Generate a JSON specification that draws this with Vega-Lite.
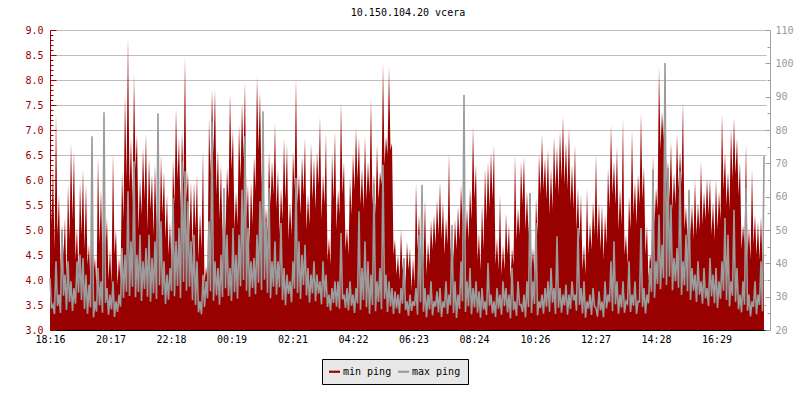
{
"$schema":"https://vega.github.io/schema/vega-lite/v6.json",
"width":716,"height":300,
"autosize":{"type":"none"},
"padding":{"left":50,"top":30,"right":34,"bottom":70},
"background":"white",
"title":{"text":"10.150.104.20 vcera","font":"DejaVu Sans Mono","fontSize":10,"fontWeight":"normal","color":"black","offset":7},
"data":{"values":[
{"t":0,"mn":6.77,"mx":35.6},{"t":3,"mn":5.1,"mx":26.5},
{"t":6,"mn":6.27,"mx":27.6},{"t":9,"mn":4.6,"mx":24.8},
{"t":12,"mn":7.34,"mx":40.6},{"t":15,"mn":4.9,"mx":27.2},
{"t":18,"mn":5.71,"mx":30.6},{"t":21,"mn":4.2,"mx":25.1},
{"t":24,"mn":5.11,"mx":49.6},{"t":27,"mn":4.5,"mx":30.3},
{"t":30,"mn":5.24,"mx":36.6},{"t":33,"mn":4.0,"mx":26.0},
{"t":36,"mn":5.91,"mx":40.6},{"t":39,"mn":4.8,"mx":28.4},
{"t":42,"mn":6.74,"mx":34.6},{"t":45,"mn":5.2,"mx":25.7},
{"t":48,"mn":6.57,"mx":32.6},{"t":51,"mn":4.4,"mx":27.9},
{"t":54,"mn":5.04,"mx":40.6},{"t":57,"mn":4.1,"mx":31.2},
{"t":60,"mn":5.97,"mx":42.6},{"t":63,"mn":4.9,"mx":29.0},
{"t":66,"mn":6.21,"mx":41.6},{"t":69,"mn":4.6,"mx":26.3},
{"t":72,"mn":5.91,"mx":36.6},{"t":75,"mn":4.3,"mx":24.9},
{"t":78,"mn":4.71,"mx":33.6},{"t":81,"mn":3.9,"mx":26.8},
{"t":84,"mn":4.91,"mx":78.1},{"t":87,"mn":4.1,"mx":23.8},
{"t":90,"mn":4.47,"mx":28.6},{"t":93,"mn":3.8,"mx":25.5},
{"t":96,"mn":6.47,"mx":38.6},{"t":99,"mn":4.7,"mx":27.4},
{"t":102,"mn":5.81,"mx":34.6},{"t":105,"mn":4.4,"mx":25.2},
{"t":108,"mn":5.51,"mx":85.3},{"t":111,"mn":4.6,"mx":28.1},
{"t":114,"mn":5.24,"mx":32.6},{"t":117,"mn":4.0,"mx":24.6},
{"t":120,"mn":4.64,"mx":30.6},{"t":123,"mn":3.9,"mx":26.2},
{"t":126,"mn":6.56,"mx":34.6},{"t":129,"mn":4.5,"mx":23.9},
{"t":132,"mn":5.01,"mx":28.6},{"t":135,"mn":3.9,"mx":25.4},
{"t":138,"mn":4.44,"mx":30.6},{"t":141,"mn":4.0,"mx":27.0},
{"t":144,"mn":6.17,"mx":44.6},{"t":147,"mn":5.2,"mx":29.6},
{"t":150,"mn":7.71,"mx":42.6},{"t":153,"mn":6.0,"mx":31.5},
{"t":156,"mn":8.87,"mx":61.6},{"t":159,"mn":5.8,"mx":30.2},
{"t":162,"mn":6.84,"mx":46.6},{"t":165,"mn":5.5,"mx":33.0},
{"t":168,"mn":8.12,"mx":70.6},{"t":171,"mn":6.2,"mx":29.8},
{"t":174,"mn":6.91,"mx":42.6},{"t":177,"mn":5.0,"mx":31.4},
{"t":180,"mn":6.04,"mx":48.6},{"t":183,"mn":5.3,"mx":28.7},
{"t":186,"mn":6.64,"mx":40.6},{"t":189,"mn":5.6,"mx":32.3},
{"t":192,"mn":6.94,"mx":44.6},{"t":195,"mn":5.0,"mx":30.0},
{"t":198,"mn":6.44,"mx":48.6},{"t":201,"mn":5.4,"mx":28.5},
{"t":204,"mn":6.11,"mx":41.6},{"t":207,"mn":4.9,"mx":31.0},
{"t":210,"mn":6.31,"mx":46.6},{"t":213,"mn":5.1,"mx":29.3},
{"t":216,"mn":5.97,"mx":85.0},{"t":219,"mn":4.7,"mx":33.4},
{"t":222,"mn":6.51,"mx":52.6},{"t":225,"mn":5.3,"mx":30.5},
{"t":228,"mn":6.17,"mx":40.6},{"t":231,"mn":4.8,"mx":27.8},
{"t":234,"mn":5.71,"mx":36.6},{"t":237,"mn":4.5,"mx":29.1},
{"t":240,"mn":5.17,"mx":38.6},{"t":243,"mn":4.3,"mx":31.7},
{"t":246,"mn":6.41,"mx":59.6},{"t":249,"mn":5.5,"mx":30.1},
{"t":252,"mn":7.44,"mx":46.6},{"t":255,"mn":6.0,"mx":33.2},
{"t":258,"mn":6.84,"mx":50.6},{"t":261,"mn":5.4,"mx":29.6},
{"t":264,"mn":6.97,"mx":70.6},{"t":267,"mn":5.9,"mx":34.5},
{"t":270,"mn":8.47,"mx":67.6},{"t":273,"mn":5.6,"mx":31.8},
{"t":276,"mn":6.17,"mx":58.6},{"t":279,"mn":4.9,"mx":33.0},
{"t":282,"mn":5.97,"mx":46.6},{"t":285,"mn":4.6,"mx":28.9},
{"t":288,"mn":5.97,"mx":48.6},{"t":291,"mn":5.0,"mx":27.5},
{"t":294,"mn":6.11,"mx":40.6},{"t":297,"mn":4.4,"mx":25.3},
{"t":300,"mn":5.37,"mx":28.6},{"t":303,"mn":4.6,"mx":24.7},
{"t":306,"mn":6.61,"mx":36.6},{"t":309,"mn":3.9,"mx":26.9},
{"t":312,"mn":4.27,"mx":34.6},{"t":315,"mn":4.0,"mx":29.5},
{"t":318,"mn":7.24,"mx":52.6},{"t":321,"mn":6.1,"mx":31.6},
{"t":324,"mn":7.81,"mx":82.6},{"t":327,"mn":6.5,"mx":28.8},
{"t":330,"mn":7.81,"mx":40.6},{"t":333,"mn":5.7,"mx":30.4},
{"t":336,"mn":6.61,"mx":38.6},{"t":339,"mn":5.2,"mx":27.6},
{"t":342,"mn":6.31,"mx":42.6},{"t":345,"mn":4.8,"mx":29.9},
{"t":348,"mn":5.84,"mx":62.6},{"t":351,"mn":4.9,"mx":32.5},
{"t":354,"mn":6.24,"mx":48.6},{"t":357,"mn":5.6,"mx":30.2},
{"t":360,"mn":7.74,"mx":38.6},{"t":363,"mn":6.2,"mx":28.7},
{"t":366,"mn":7.01,"mx":50.6},{"t":369,"mn":5.0,"mx":31.3},
{"t":372,"mn":5.77,"mx":42.6},{"t":375,"mn":5.1,"mx":29.4},
{"t":378,"mn":7.11,"mx":48.6},{"t":381,"mn":6.0,"mx":33.1},
{"t":384,"mn":7.54,"mx":62.1},{"t":387,"mn":6.4,"mx":35.0},
{"t":390,"mn":7.97,"mx":78.1},{"t":393,"mn":5.2,"mx":31.8},
{"t":396,"mn":5.91,"mx":50.6},{"t":399,"mn":4.7,"mx":30.0},
{"t":402,"mn":5.97,"mx":40.6},{"t":405,"mn":5.1,"mx":32.6},
{"t":408,"mn":6.47,"mx":41.6},{"t":411,"mn":5.8,"mx":30.7},
{"t":414,"mn":8.07,"mx":48.6},{"t":417,"mn":6.6,"mx":34.2},
{"t":420,"mn":7.77,"mx":58.6},{"t":423,"mn":5.9,"mx":32.0},
{"t":426,"mn":6.71,"mx":85.6},{"t":429,"mn":4.8,"mx":35.1},
{"t":432,"mn":5.44,"mx":52.6},{"t":435,"mn":4.9,"mx":31.2},
{"t":438,"mn":6.57,"mx":62.6},{"t":441,"mn":5.5,"mx":29.5},
{"t":444,"mn":6.37,"mx":40.6},{"t":447,"mn":5.7,"mx":33.0},
{"t":450,"mn":7.14,"mx":46.6},{"t":453,"mn":5.4,"mx":30.6},
{"t":456,"mn":6.21,"mx":40.6},{"t":459,"mn":4.9,"mx":32.8},
{"t":462,"mn":5.84,"mx":52.1},{"t":465,"mn":5.2,"mx":29.0},
{"t":468,"mn":6.84,"mx":38.6},{"t":471,"mn":5.6,"mx":27.4},
{"t":474,"mn":6.71,"mx":36.6},{"t":477,"mn":4.8,"mx":30.8},
{"t":480,"mn":5.57,"mx":34.6},{"t":483,"mn":4.9,"mx":28.3},
{"t":486,"mn":6.57,"mx":40.6},{"t":489,"mn":5.8,"mx":32.4},
{"t":492,"mn":8.04,"mx":65.6},{"t":495,"mn":5.5,"mx":31.1},
{"t":498,"mn":6.11,"mx":46.6},{"t":501,"mn":5.3,"mx":29.3},
{"t":504,"mn":6.47,"mx":42.6},{"t":507,"mn":5.7,"mx":33.5},
{"t":510,"mn":6.84,"mx":45.6},{"t":513,"mn":5.0,"mx":30.4},
{"t":516,"mn":5.71,"mx":38.6},{"t":519,"mn":5.1,"mx":28.2},
{"t":522,"mn":6.74,"mx":36.6},{"t":525,"mn":5.6,"mx":31.0},
{"t":528,"mn":6.44,"mx":40.6},{"t":531,"mn":5.4,"mx":28.6},
{"t":534,"mn":6.57,"mx":36.6},{"t":537,"mn":5.9,"mx":30.9},
{"t":540,"mn":7.27,"mx":34.6},{"t":543,"mn":5.2,"mx":27.7},
{"t":546,"mn":6.11,"mx":40.6},{"t":549,"mn":5.5,"mx":29.8},
{"t":552,"mn":6.94,"mx":36.6},{"t":555,"mn":4.4,"mx":26.9},
{"t":558,"mn":4.84,"mx":30.6},{"t":561,"mn":4.3,"mx":25.8},
{"t":564,"mn":6.54,"mx":32.6},{"t":567,"mn":5.6,"mx":28.1},
{"t":570,"mn":6.97,"mx":34.6},{"t":573,"mn":5.0,"mx":27.0},
{"t":576,"mn":5.81,"mx":34.6},{"t":579,"mn":5.3,"mx":26.4},
{"t":582,"mn":7.57,"mx":49.1},{"t":585,"mn":5.7,"mx":29.2},
{"t":588,"mn":6.37,"mx":30.6},{"t":591,"mn":4.6,"mx":26.6},
{"t":594,"mn":5.04,"mx":32.6},{"t":597,"mn":4.5,"mx":25.9},
{"t":600,"mn":6.04,"mx":34.6},{"t":603,"mn":5.3,"mx":27.3},
{"t":606,"mn":6.54,"mx":30.6},{"t":609,"mn":5.8,"mx":25.1},
{"t":612,"mn":7.04,"mx":32.6},{"t":615,"mn":6.0,"mx":28.0},
{"t":618,"mn":6.84,"mx":55.6},{"t":621,"mn":5.5,"mx":26.1},
{"t":624,"mn":6.24,"mx":38.6},{"t":627,"mn":5.4,"mx":29.0},
{"t":630,"mn":6.87,"mx":46.6},{"t":633,"mn":5.6,"mx":26.8},
{"t":636,"mn":6.37,"mx":40.6},{"t":639,"mn":5.7,"mx":24.9},
{"t":642,"mn":7.64,"mx":36.6},{"t":645,"mn":5.5,"mx":27.5},
{"t":648,"mn":6.11,"mx":63.6},{"t":651,"mn":5.3,"mx":25.6},
{"t":654,"mn":6.71,"mx":34.6},{"t":657,"mn":5.6,"mx":28.4},
{"t":660,"mn":6.17,"mx":38.6},{"t":663,"mn":5.9,"mx":26.2},
{"t":666,"mn":8.34,"mx":69.6},{"t":669,"mn":6.3,"mx":29.3},
{"t":672,"mn":6.87,"mx":36.6},{"t":675,"mn":6.5,"mx":25.4},
{"t":678,"mn":8.27,"mx":34.6},{"t":681,"mn":6.6,"mx":27.1},
{"t":684,"mn":6.74,"mx":32.6},{"t":687,"mn":4.5,"mx":24.8},
{"t":690,"mn":4.81,"mx":31.6},{"t":693,"mn":4.1,"mx":26.5},
{"t":696,"mn":4.51,"mx":30.6},{"t":699,"mn":4.0,"mx":25.0},
{"t":702,"mn":5.01,"mx":32.6},{"t":705,"mn":4.2,"mx":27.9},
{"t":708,"mn":4.44,"mx":41.6},{"t":711,"mn":3.9,"mx":26.0},
{"t":714,"mn":4.77,"mx":28.6},{"t":717,"mn":4.2,"mx":24.3},
{"t":720,"mn":4.64,"mx":30.6},{"t":723,"mn":3.8,"mx":25.7},
{"t":726,"mn":4.44,"mx":28.6},{"t":729,"mn":3.9,"mx":27.2},
{"t":732,"mn":5.94,"mx":32.6},{"t":735,"mn":4.6,"mx":24.6},
{"t":738,"mn":5.31,"mx":48.6},{"t":741,"mn":4.4,"mx":28.3},
{"t":744,"mn":5.04,"mx":63.6},{"t":747,"mn":4.3,"mx":25.5},
{"t":750,"mn":5.61,"mx":32.6},{"t":753,"mn":4.1,"mx":23.8},
{"t":756,"mn":4.77,"mx":30.6},{"t":759,"mn":4.3,"mx":26.2},
{"t":762,"mn":5.21,"mx":34.6},{"t":765,"mn":4.6,"mx":24.4},
{"t":768,"mn":5.31,"mx":28.6},{"t":771,"mn":4.7,"mx":27.0},
{"t":774,"mn":5.61,"mx":31.6},{"t":777,"mn":4.9,"mx":25.3},
{"t":780,"mn":5.97,"mx":32.6},{"t":783,"mn":4.8,"mx":23.9},
{"t":786,"mn":5.57,"mx":28.6},{"t":789,"mn":4.5,"mx":26.7},
{"t":792,"mn":5.24,"mx":34.6},{"t":795,"mn":4.7,"mx":24.8},
{"t":798,"mn":6.54,"mx":30.6},{"t":801,"mn":4.5,"mx":27.4},
{"t":804,"mn":5.04,"mx":51.6},{"t":807,"mn":4.4,"mx":25.1},
{"t":810,"mn":5.21,"mx":34.6},{"t":813,"mn":4.6,"mx":23.6},
{"t":816,"mn":5.47,"mx":30.6},{"t":819,"mn":4.8,"mx":26.3},
{"t":822,"mn":5.91,"mx":40.6},{"t":825,"mn":5.1,"mx":28.6},
{"t":828,"mn":6.34,"mx":90.6},{"t":831,"mn":4.7,"mx":25.4},
{"t":834,"mn":5.44,"mx":34.6},{"t":837,"mn":4.8,"mx":27.1},
{"t":840,"mn":5.84,"mx":38.6},{"t":843,"mn":5.2,"mx":24.7},
{"t":846,"mn":7.07,"mx":32.6},{"t":849,"mn":5.6,"mx":26.8},
{"t":852,"mn":6.31,"mx":34.6},{"t":855,"mn":4.4,"mx":25.2},
{"t":858,"mn":4.94,"mx":31.6},{"t":861,"mn":4.2,"mx":23.7},
{"t":864,"mn":5.51,"mx":32.6},{"t":867,"mn":4.6,"mx":26.1},
{"t":870,"mn":6.24,"mx":28.6},{"t":873,"mn":5.2,"mx":24.5},
{"t":876,"mn":6.37,"mx":40.1},{"t":879,"mn":5.4,"mx":27.3},
{"t":882,"mn":6.57,"mx":30.6},{"t":885,"mn":5.6,"mx":25.0},
{"t":888,"mn":6.71,"mx":28.6},{"t":891,"mn":4.3,"mx":23.9},
{"t":894,"mn":4.84,"mx":32.6},{"t":897,"mn":4.2,"mx":26.4},
{"t":900,"mn":5.71,"mx":30.6},{"t":903,"mn":4.1,"mx":24.6},
{"t":906,"mn":4.71,"mx":34.6},{"t":909,"mn":4.2,"mx":27.2},
{"t":912,"mn":5.34,"mx":32.6},{"t":915,"mn":4.5,"mx":25.3},
{"t":918,"mn":5.11,"mx":30.6},{"t":921,"mn":4.0,"mx":23.5},
{"t":924,"mn":4.64,"mx":38.6},{"t":927,"mn":4.3,"mx":26.0},
{"t":930,"mn":6.51,"mx":28.6},{"t":933,"mn":4.8,"mx":24.2},
{"t":936,"mn":5.44,"mx":34.6},{"t":939,"mn":4.9,"mx":27.6},
{"t":942,"mn":6.37,"mx":27.6},{"t":945,"mn":5.5,"mx":25.4},
{"t":948,"mn":6.47,"mx":30.6},{"t":951,"mn":5.0,"mx":23.8},
{"t":954,"mn":5.77,"mx":34.6},{"t":957,"mn":4.9,"mx":26.9},
{"t":960,"mn":5.77,"mx":61.1},{"t":963,"mn":4.2,"mx":25.1},
{"t":966,"mn":4.64,"mx":34.6},{"t":969,"mn":4.1,"mx":27.8},
{"t":972,"mn":5.64,"mx":52.1},{"t":975,"mn":4.9,"mx":24.4},
{"t":978,"mn":6.51,"mx":28.6},{"t":981,"mn":5.7,"mx":26.6},
{"t":984,"mn":6.91,"mx":30.6},{"t":987,"mn":5.8,"mx":24.9},
{"t":990,"mn":6.44,"mx":32.6},{"t":993,"mn":5.6,"mx":27.0},
{"t":996,"mn":6.61,"mx":34.6},{"t":999,"mn":5.3,"mx":25.5},
{"t":1002,"mn":6.24,"mx":38.6},{"t":1005,"mn":5.4,"mx":28.2},
{"t":1008,"mn":6.87,"mx":32.6},{"t":1011,"mn":5.8,"mx":24.8},
{"t":1014,"mn":6.67,"mx":48.1},{"t":1017,"mn":5.7,"mx":26.7},
{"t":1020,"mn":6.97,"mx":32.6},{"t":1023,"mn":6.0,"mx":25.2},
{"t":1026,"mn":7.27,"mx":30.6},{"t":1029,"mn":5.9,"mx":27.4},
{"t":1032,"mn":6.77,"mx":33.6},{"t":1035,"mn":5.8,"mx":24.6},
{"t":1038,"mn":7.04,"mx":30.6},{"t":1041,"mn":5.5,"mx":26.3},
{"t":1044,"mn":6.31,"mx":34.6},{"t":1047,"mn":5.4,"mx":28.9},
{"t":1050,"mn":6.71,"mx":30.6},{"t":1053,"mn":5.0,"mx":25.8},
{"t":1056,"mn":5.84,"mx":50.6},{"t":1059,"mn":4.8,"mx":27.5},
{"t":1062,"mn":5.71,"mx":32.6},{"t":1065,"mn":4.2,"mx":25.0},
{"t":1068,"mn":4.71,"mx":34.6},{"t":1071,"mn":4.1,"mx":23.7},
{"t":1074,"mn":5.84,"mx":28.6},{"t":1077,"mn":4.5,"mx":26.4},
{"t":1080,"mn":5.17,"mx":30.6},{"t":1083,"mn":4.6,"mx":24.5},
{"t":1086,"mn":5.57,"mx":32.6},{"t":1089,"mn":4.9,"mx":27.1},
{"t":1092,"mn":6.51,"mx":26.6},{"t":1095,"mn":4.8,"mx":24.0},
{"t":1098,"mn":5.54,"mx":31.6},{"t":1101,"mn":4.6,"mx":25.9},
{"t":1104,"mn":5.51,"mx":28.6},{"t":1107,"mn":4.4,"mx":23.8},
{"t":1110,"mn":5.31,"mx":34.6},{"t":1113,"mn":4.7,"mx":26.5},
{"t":1116,"mn":6.24,"mx":30.6},{"t":1119,"mn":5.4,"mx":28.3},
{"t":1122,"mn":7.11,"mx":40.6},{"t":1125,"mn":5.7,"mx":25.6},
{"t":1128,"mn":6.37,"mx":46.6},{"t":1131,"mn":5.5,"mx":27.7},
{"t":1134,"mn":6.67,"mx":34.6},{"t":1137,"mn":5.0,"mx":24.9},
{"t":1140,"mn":5.84,"mx":30.6},{"t":1143,"mn":5.1,"mx":26.8},
{"t":1146,"mn":7.24,"mx":34.6},{"t":1149,"mn":4.5,"mx":25.2},
{"t":1152,"mn":4.91,"mx":28.6},{"t":1155,"mn":4.3,"mx":27.9},
{"t":1158,"mn":5.67,"mx":40.6},{"t":1161,"mn":5.0,"mx":25.4},
{"t":1164,"mn":7.01,"mx":30.6},{"t":1167,"mn":5.3,"mx":27.3},
{"t":1170,"mn":5.97,"mx":34.6},{"t":1173,"mn":5.1,"mx":24.8},
{"t":1176,"mn":6.11,"mx":28.6},{"t":1179,"mn":5.5,"mx":28.5},
{"t":1182,"mn":7.34,"mx":50.6},{"t":1185,"mn":5.6,"mx":26.9},
{"t":1188,"mn":6.27,"mx":32.6},{"t":1191,"mn":4.5,"mx":25.0},
{"t":1194,"mn":5.11,"mx":30.6},{"t":1197,"mn":4.0,"mx":28.0},
{"t":1200,"mn":4.51,"mx":38.6},{"t":1203,"mn":4.3,"mx":31.5},
{"t":1206,"mn":6.51,"mx":68.1},{"t":1209,"mn":5.1,"mx":29.7},
{"t":1212,"mn":5.84,"mx":40.6},{"t":1215,"mn":5.4,"mx":33.8},
{"t":1218,"mn":8.27,"mx":54.6},{"t":1221,"mn":6.6,"mx":32.2},
{"t":1224,"mn":7.37,"mx":45.6},{"t":1227,"mn":6.8,"mx":35.6},
{"t":1230,"mn":8.11,"mx":100.1},{"t":1233,"mn":5.9,"mx":33.5},
{"t":1236,"mn":6.37,"mx":68.6},{"t":1239,"mn":5.6,"mx":36.0},
{"t":1242,"mn":6.77,"mx":57.6},{"t":1245,"mn":5.4,"mx":31.9},
{"t":1248,"mn":6.14,"mx":41.6},{"t":1251,"mn":5.5,"mx":34.6},
{"t":1254,"mn":6.94,"mx":44.6},{"t":1257,"mn":5.8,"mx":32.7},
{"t":1260,"mn":6.57,"mx":67.6},{"t":1263,"mn":5.9,"mx":30.5},
{"t":1266,"mn":7.57,"mx":40.6},{"t":1269,"mn":5.0,"mx":33.4},
{"t":1272,"mn":5.47,"mx":48.6},{"t":1275,"mn":4.8,"mx":31.6},
{"t":1278,"mn":5.77,"mx":62.1},{"t":1281,"mn":4.9,"mx":29.0},
{"t":1284,"mn":5.51,"mx":38.6},{"t":1287,"mn":4.8,"mx":31.8},
{"t":1290,"mn":6.01,"mx":36.6},{"t":1293,"mn":4.9,"mx":28.4},
{"t":1296,"mn":5.54,"mx":40.6},{"t":1299,"mn":5.0,"mx":30.6},
{"t":1302,"mn":6.37,"mx":34.6},{"t":1305,"mn":5.1,"mx":27.9},
{"t":1308,"mn":5.77,"mx":38.6},{"t":1311,"mn":5.2,"mx":29.5},
{"t":1314,"mn":6.04,"mx":32.6},{"t":1317,"mn":5.3,"mx":27.2},
{"t":1320,"mn":6.04,"mx":41.6},{"t":1323,"mn":4.9,"mx":30.1},
{"t":1326,"mn":5.57,"mx":36.6},{"t":1329,"mn":4.8,"mx":28.0},
{"t":1332,"mn":6.01,"mx":38.6},{"t":1335,"mn":5.0,"mx":26.6},
{"t":1338,"mn":5.77,"mx":34.6},{"t":1341,"mn":5.2,"mx":29.4},
{"t":1344,"mn":7.34,"mx":40.6},{"t":1347,"mn":5.8,"mx":31.8},
{"t":1350,"mn":6.54,"mx":53.6},{"t":1353,"mn":5.5,"mx":29.0},
{"t":1356,"mn":6.17,"mx":48.6},{"t":1359,"mn":5.4,"mx":27.1},
{"t":1362,"mn":7.04,"mx":34.6},{"t":1365,"mn":6.0,"mx":30.3},
{"t":1368,"mn":7.24,"mx":56.1},{"t":1371,"mn":6.1,"mx":28.5},
{"t":1374,"mn":6.84,"mx":38.6},{"t":1377,"mn":5.7,"mx":26.2},
{"t":1380,"mn":6.37,"mx":30.6},{"t":1383,"mn":4.6,"mx":25.3},
{"t":1386,"mn":5.11,"mx":34.6},{"t":1389,"mn":4.7,"mx":27.6},
{"t":1392,"mn":6.74,"mx":62.6},{"t":1395,"mn":4.5,"mx":25.8},
{"t":1398,"mn":5.04,"mx":30.6},{"t":1401,"mn":4.4,"mx":24.1},
{"t":1404,"mn":6.21,"mx":28.6},{"t":1407,"mn":4.7,"mx":26.9},
{"t":1410,"mn":5.31,"mx":34.6},{"t":1413,"mn":4.5,"mx":24.7},
{"t":1416,"mn":5.17,"mx":30.6},{"t":1419,"mn":4.4,"mx":27.5},
{"t":1422,"mn":5.27,"mx":40.6},{"t":1425,"mn":4.3,"mx":25.6},
{"t":1428,"mn":5.04,"mx":72.1}
]},
"layer":[
{"mark":{"type":"area","interpolate":"linear"},
 "encoding":{
  "x":{"field":"t","type":"quantitative","scale":{"domain":[0,1432],"nice":false,"zero":false},
       "axis":{"title":null,"values":[0,121,242,363,485,606,727,848,970,1091,1212,1333],
               "labelExpr":"timeFormat(datetime(2000,0,1,18,16+datum.value),'%H:%M')",
               "domainColor":"black","tickColor":"black","tickSize":-5,"labelColor":"black","labelPadding":9,
               "grid":false,"labelFlush":false,"labelOverlap":false}},
  "y":{"field":"mn","type":"quantitative","scale":{"domain":[3,9],"nice":false,"zero":false},
       "axis":{"orient":"left","title":null,
               "values":[3,3.1,3.2,3.3,3.4,3.5,3.6,3.7,3.8,3.9,4,4.1,4.2,4.3,4.4,4.5,4.6,4.7,4.8,4.9,5,5.1,5.2,5.3,5.4,5.5,5.6,5.7,5.8,5.9,6,6.1,6.2,6.3,6.4,6.5,6.6,6.7,6.8,6.9,7,7.1,7.2,7.3,7.4,7.5,7.6,7.7,7.8,7.9,8,8.1,8.2,8.3,8.4,8.5,8.6,8.7,8.8,8.9,9],
               "labelExpr":"abs(datum.value*2-round(datum.value*2))<0.01 ? format(datum.value,'.1f') : ''",
               "tickSize":{"condition":{"test":"abs(datum.value*2-round(datum.value*2))<0.01","value":-6},"value":-3},
               "grid":true,"gridColor":"#bdbdbd",
               "gridOpacity":{"condition":{"test":"abs(datum.value*2-round(datum.value*2))<0.01","value":1},"value":0},
               "domainColor":"#990000","tickColor":"#990000","labelColor":"#990000","labelPadding":13,
               "labelOverlap":false,"labelFlush":false}},
  "y2":{"datum":3},
  "color":{"datum":"min ping","type":"nominal",
           "scale":{"domain":["min ping","max ping"],"range":["#990000","#9c9c9c"]},
           "legend":{"orient":"none","legendX":272,"legendY":329,"direction":"horizontal","title":null,
                     "fillColor":"#e8e8e8","strokeColor":"black","padding":7,
                     "symbolType":"M-1,-0.2H1V0.2H-1Z","symbolSize":121,"symbolStrokeWidth":0,
                     "labelFont":"DejaVu Sans Mono","labelFontSize":10,"labelColor":"black","labelOffset":3,"columnPadding":6,
                     "labelExpr":"datum.label=='max ping' ? 'max ping ' : datum.label"}}
 }},
{"mark":{"type":"line","interpolate":"linear","strokeWidth":1.6},
 "encoding":{
  "x":{"field":"t","type":"quantitative"},
  "y":{"field":"mx","type":"quantitative","scale":{"domain":[20,110],"nice":false,"zero":false},
       "axis":{"orient":"right","title":null,"offset":4,
               "values":[20,25,30,35,40,45,50,55,60,65,70,75,80,85,90,95,100,105,110],
               "labelExpr":"datum.value % 10 == 0 ? format(datum.value,'d') : ''",
               "tickSize":{"condition":{"test":"datum.value % 10 == 0","value":-5},"value":-3},
               "grid":false,"domainColor":"#a0a0a0","tickColor":"#a0a0a0","labelColor":"#999999","labelPadding":10,
               "labelOverlap":false,"labelFlush":false}},
  "color":{"datum":"max ping","type":"nominal"}
 }}
],
"resolve":{"scale":{"y":"independent"}},
"config":{"view":{"stroke":null},"axis":{"labelFont":"DejaVu Sans Mono","labelFontSize":10}}
}
